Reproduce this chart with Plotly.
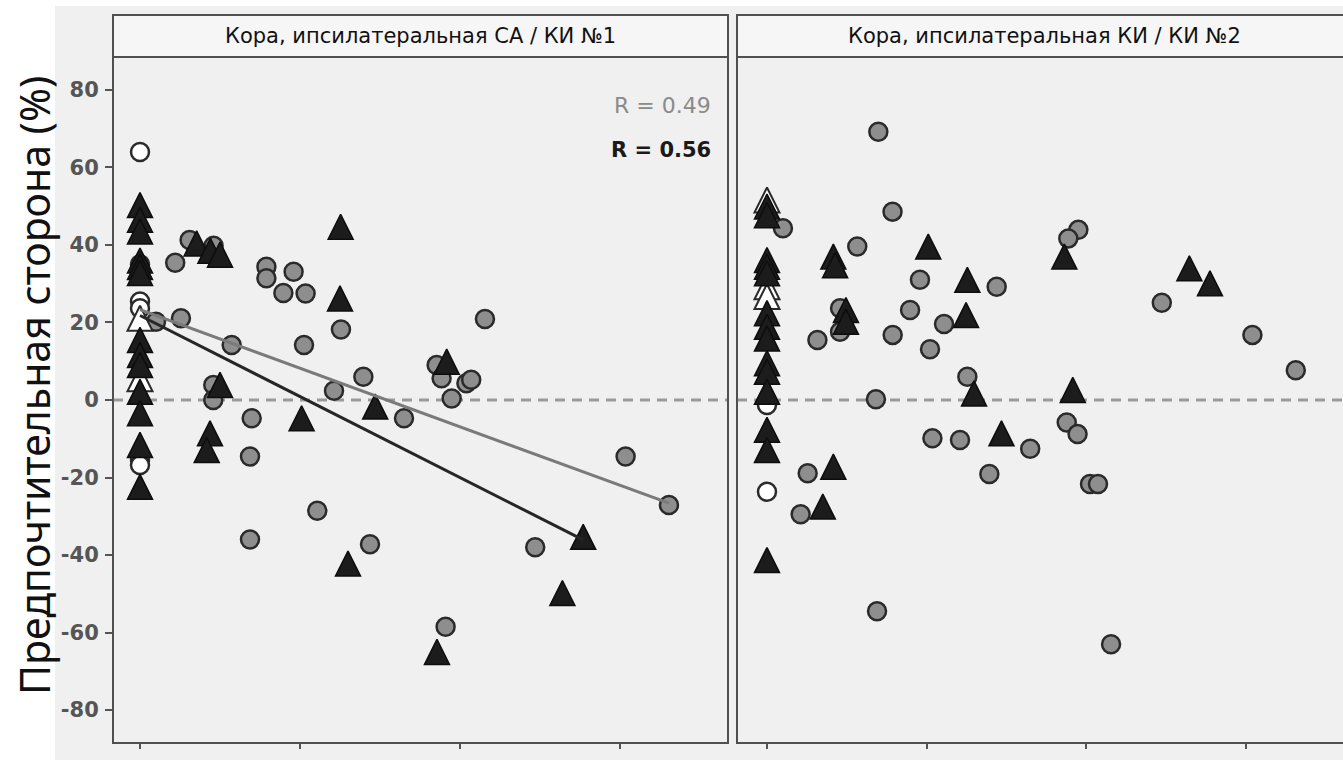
import plotly.graph_objects as go

# ---- data -------------------------------------------------------------
y_ticks = [-80, -60, -40, -20, 0, 20, 40, 60, 80]
y_tick_text = ["-80", "-60", "-40", "-20", "0", "20", "40", "60", "80"]
x_ticks = [0, 1, 2, 3]

panel_titles = ["Кора, ипсилатеральная СА / КИ №1", "Кора, ипсилатеральная КИ / КИ №2"]
y_title = "Предпочтительная сторона (%)"
r_labels = ["R = 0.49", "R = 0.56"]

# panel 1
p1_circle_x = [0.10, 0.256, 0.22, 0.31, 0.46, 0.79, 0.79, 0.96, 0.896, 1.035, 1.256, 0.573,
               1.025, 1.396, 1.2125, 1.65, 0.698, 0.6875, 0.458, 0.458, 1.108, 2.156, 1.854,
               1.885, 2.04, 2.07, 1.948, 3.035, 3.306, 0.6875, 1.4375, 2.47, 1.91, 0.0]
p1_circle_y = [20.2, 21.1, 35.4, 41.3, 39.8, 34.4, 31.4, 33.1, 27.6, 27.5, 18.2, 14.2,
               14.2, 6.0, 2.4, -4.7, -4.7, -14.6, 3.9, 0.0, -28.6, 20.9, 9.0,
               5.6, 4.3, 5.2, 0.4, -14.6, -27.1, -36.0, -37.2, -38.0, -58.5, 35.0]
p1_tri_x = [0, 0, 0, 0, 0, 0, 0, 0, 0, 0, 0, 0, 0,
            0.354, 0.44, 0.5, 1.254, 1.25, 1.47, 1.01, 0.4375, 0.417, 0.5, 1.917, 2.77, 1.3,
            1.856, 2.64]
p1_tri_y = [50.3, 46.5, 43.5, 36.0, 34.3, 32.8, 15.5, 11.6, 9.0, 2.1, -3.4, -11.6, -22.4,
            40.4, 38.5, 37.5, 44.7, 26.2, -1.7, -4.7, -8.6, -12.9, 3.9, 9.9, -35.3, -42.2,
            -65.0, -49.8]
p1_open_circle_x = [0, 0, 0, 0, 0]
p1_open_circle_y = [64.0, 25.4, 23.7, -15.5, -16.8]
p1_open_tri_x = [0, 0]
p1_open_tri_y = [21.1, 5.5]

# fitted lines in panel 1: (intercept, slope, x start, x end)
fit_circles = [23.3, -15.1, 0.0, 3.306]
fit_triangles = [21.8, -20.9, 0.0, 2.77]

# panel 2
p2_circle_x = [0.698, 0.787, 0.10, 0.566, 0.959, 1.44, 1.11, 0.897, 0.458, 0.458, 0.316, 0.788,
               1.022, 1.256, 0.683, 1.037, 1.21, 1.65, 1.394, 0.255, 0.211, 1.952, 1.889, 2.475,
               3.043, 3.315, 1.879, 1.947, 2.025, 2.075, 2.157, 0.69]
p2_circle_y = [69.2, 48.6, 44.3, 39.6, 31.0, 29.2, 19.6, 23.2, 23.7, 17.6, 15.5, 16.8,
               13.1, 6.0, 0.2, -9.9, -10.3, -12.6, -19.1, -18.9, -29.5, 43.9, 41.7, 25.1,
               16.8, 7.7, -5.8, -8.8, -21.7, -21.7, -63.0, -54.5]
p2_tri_x = [0, 0, 0, 0, 0, 0, 0, 0, 0, 0, 0, 0, 0, 0,
            0.416, 0.427, 1.011, 1.256, 1.248, 0.495, 0.495, 1.298, 1.47, 0.416, 0.35,
            1.864, 2.648, 2.777, 1.917]
p2_tri_y = [49.9, 47.7, 36.1, 34.4, 32.7, 22.4, 18.9, 15.9, 9.5, 7.3, 2.1, -7.7, -12.9, -41.3,
            37.0, 34.8, 39.6, 31.0, 21.9, 23.2, 20.2, 1.7, -8.6, -17.2, -27.5,
            37.0, 34.0, 30.1, 2.6]
p2_open_tri_x = [0, 0, 0]
p2_open_tri_y = [51.6, 29.2, 26.7]
p2_open_circle_x = [0, 0]
p2_open_circle_y = [-1.3, -23.7]

# ---- styling ----------------------------------------------------------
W, H = 1343, 760
EDGE = "#2a2a2a"
CIRCLE = dict(symbol="circle", size=18, color="#8e8e8e", line=dict(color=EDGE, width=2.5))
OPEN_CIRCLE = dict(symbol="circle", size=18, color="#ffffff", line=dict(color=EDGE, width=2.5))
# upward triangle with equal width and height, centred on the point
TRI_SIZE = 25
TRIANGLE = dict(symbol="arrow-down", angle=180, standoff=TRI_SIZE / 2, size=TRI_SIZE,
                color="#1c1c1c", line=dict(color="#0d0d0d", width=1.5))
OPEN_TRIANGLE = dict(symbol="arrow-down", angle=180, standoff=TRI_SIZE / 2, size=TRI_SIZE,
                     color="#ffffff", line=dict(color=EDGE, width=2))

fig = go.Figure()


def add_points(x, y, marker, xa, ya):
    fig.add_trace(go.Scatter(x=x, y=y, mode="markers", marker=marker,
                             xaxis=xa, yaxis=ya, showlegend=False, hoverinfo="skip"))


def add_fit(fit, color, xa, ya):
    b0, b1, xs, xe = fit
    fig.add_trace(go.Scatter(x=[xs, xe], y=[b0 + b1 * xs, b0 + b1 * xe], mode="lines",
                             line=dict(color=color, width=3), xaxis=xa, yaxis=ya,
                             showlegend=False, hoverinfo="skip"))


add_points(p1_circle_x, p1_circle_y, CIRCLE, "x", "y")
add_points(p1_open_circle_x, p1_open_circle_y, OPEN_CIRCLE, "x", "y")
add_points(p1_open_tri_x, p1_open_tri_y, OPEN_TRIANGLE, "x", "y")
add_points(p1_tri_x, p1_tri_y, TRIANGLE, "x", "y")
add_fit(fit_circles, "#7a7a7a", "x", "y")
add_fit(fit_triangles, "#262626", "x", "y")

add_points(p2_circle_x, p2_circle_y, CIRCLE, "x2", "y2")
add_points(p2_open_circle_x, p2_open_circle_y, OPEN_CIRCLE, "x2", "y2")
add_points(p2_open_tri_x, p2_open_tri_y, OPEN_TRIANGLE, "x2", "y2")
add_points(p2_tri_x, p2_tri_y, TRIANGLE, "x2", "y2")

# ---- layout geometry (pixels -> paper) ---------------------------------
def px_x(v):
    return v / W


def px_y(v):
    return 1 - v / H


plot_top, plot_bottom, strip_top = 57, 743, 15
y_dom = [px_y(plot_bottom), px_y(plot_top)]
x1_dom = [px_x(113), px_x(728)]
x2_dom = [px_x(737), 1.0]

AXCOL = "#555555"
common_x = dict(showgrid=False, zeroline=False, showline=False, ticks="outside", ticklen=5,
                tickwidth=1.5, tickcolor=AXCOL, tickvals=x_ticks, showticklabels=False)
common_y = dict(showgrid=False, zeroline=False, showline=False, range=[-88.5, 88.5],
                domain=y_dom, tickvals=y_ticks, ticktext=y_tick_text)

fig.update_layout(
    width=W, height=H, margin=dict(l=0, r=0, t=0, b=0),
    paper_bgcolor="#ffffff", plot_bgcolor="#f3f3f3",
    xaxis=dict(common_x, domain=x1_dom, range=[-0.16875, 3.675], anchor="y"),
    yaxis=dict(common_y, anchor="x", ticks="outside", ticklen=7, tickwidth=1.5,
               tickcolor=AXCOL, ticklabelstandoff=2,
               tickfont=dict(family="DejaVu Sans, sans-serif", size=21, weight="bold",
                             color="#555555")),
    xaxis2=dict(common_x, domain=x2_dom, range=[-0.188, 3.611], anchor="y2"),
    yaxis2=dict(common_y, anchor="x2", showticklabels=False, ticks=""),
)

shapes = []
# light backdrop behind the whole figure block
shapes.append(dict(type="rect", xref="paper", yref="paper", x0=px_x(55), x1=1.0,
                   y0=0, y1=px_y(6), fillcolor="#f0f0f0", line=dict(width=0), layer="below"))
for xa, ya, xr in (("x", "y", 1.0), ("x2", "y2", 1.05)):
    # zero reference line
    shapes.append(dict(type="line", xref=f"{xa} domain", yref=ya, x0=0, x1=1, y0=0, y1=0,
                       line=dict(color="#9a9a9a", width=3, dash="10px,7px"), layer="below"))
    # strip header
    shapes.append(dict(type="rect", xref=f"{xa} domain", yref="paper", x0=0, x1=xr,
                       y0=px_y(plot_top), y1=px_y(strip_top), fillcolor="#f6f6f6",
                       line=dict(color="#505050", width=2)))
    # panel frame
    shapes.append(dict(type="rect", xref=f"{xa} domain", yref=f"{ya} domain", x0=0, x1=xr,
                       y0=0, y1=1, line=dict(color="#505050", width=2)))
fig.update_layout(shapes=shapes)

TITLE_FONT = "Noto Sans, Open Sans, sans-serif"
ann = []
for title, dom in zip(panel_titles, (x1_dom, [x2_dom[0], px_x(737 + 615)])):
    ann.append(dict(text=title, xref="paper", yref="paper", x=(dom[0] + dom[1]) / 2,
                    y=px_y((strip_top + plot_top) / 2), xanchor="center", yanchor="middle",
                    showarrow=False,
                    font=dict(family="DejaVu Sans, sans-serif", size=21, color="#111111")))
ann.append(dict(text=y_title, xref="paper", yref="paper", x=px_x(34), y=px_y(386),
                xanchor="center", yanchor="middle", textangle=-90, showarrow=False,
                font=dict(family=TITLE_FONT, size=41, color="#111111")))
ann.append(dict(text=r_labels[0], xref="paper", yref="paper", x=px_x(713), y=px_y(106),
                xanchor="right", yanchor="middle", showarrow=False,
                font=dict(family="DejaVu Sans, sans-serif", size=22, color="#8a8a8a")))
ann.append(dict(text=r_labels[1], xref="paper", yref="paper", x=px_x(713),
                y=px_y(150), xanchor="right", yanchor="middle", showarrow=False,
                font=dict(family="DejaVu Sans, sans-serif", size=21, weight="bold",
                          color="#1a1a1a")))
fig.update_layout(annotations=ann)

fig.write_html("out.html")
